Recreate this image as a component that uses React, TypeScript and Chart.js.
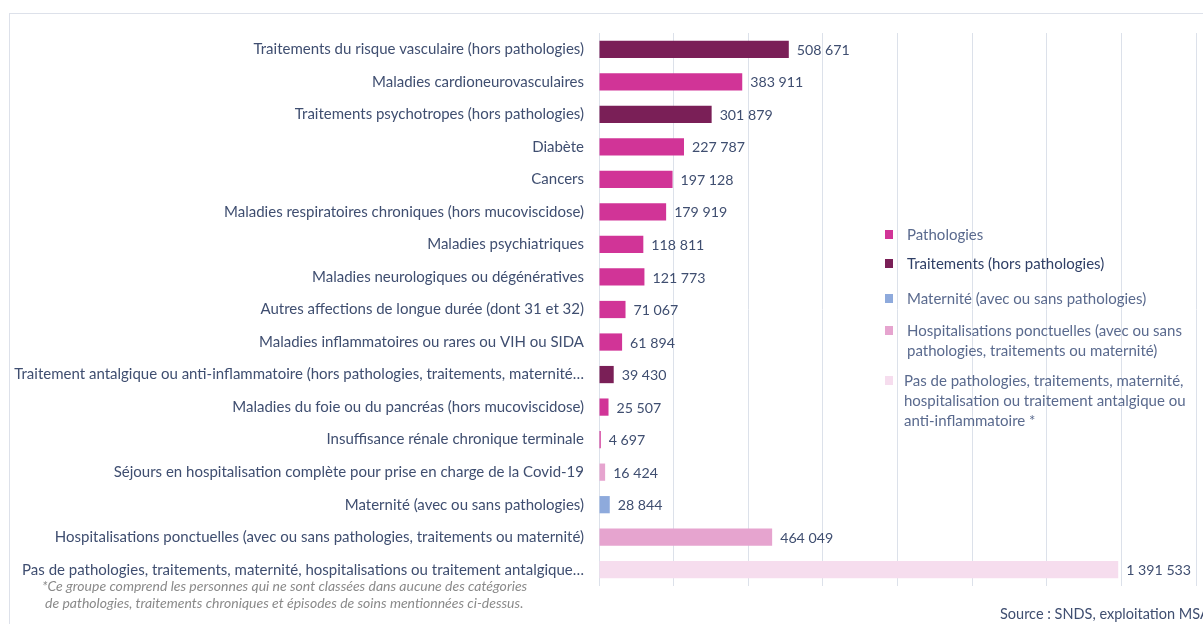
import React, { useEffect, useRef } from "react";
import { Chart, registerables } from "chart.js";

Chart.register(...registerables);

const categories = [
  "Traitements du risque vasculaire (hors pathologies)",
  "Maladies cardioneurovasculaires",
  "Traitements psychotropes (hors pathologies)",
  "Diabète",
  "Cancers",
  "Maladies respiratoires chroniques (hors mucoviscidose)",
  "Maladies psychiatriques",
  "Maladies neurologiques ou dégénératives",
  "Autres affections de longue durée (dont 31 et 32)",
  "Maladies inflammatoires ou rares ou VIH ou SIDA",
  "Traitement antalgique ou anti-inflammatoire (hors pathologies, traitements, maternité…",
  "Maladies du foie ou du pancréas (hors mucoviscidose)",
  "Insuffisance rénale chronique terminale",
  "Séjours en hospitalisation complète pour prise en charge de la Covid-19",
  "Maternité (avec ou sans pathologies)",
  "Hospitalisations ponctuelles (avec ou sans pathologies, traitements ou maternité)",
  "Pas de pathologies, traitements, maternité, hospitalisations ou traitement antalgique…",
];

const values = [
  508671, 383911, 301879, 227787, 197128, 179919, 118811, 121773, 71067, 61894,
  39430, 25507, 4697, 16424, 28844, 464049, 1391533,
];

// group of each bar: P pathologies, T traitements, M maternité, H hospitalisations, N aucune
const groups = ["T", "P", "T", "P", "P", "P", "P", "P", "P", "P", "T", "P", "P", "H", "M", "H", "N"];

const legendLabels = [
  ["Pathologies"],
  ["Traitements (hors pathologies)"],
  ["Maternité (avec ou sans pathologies)"],
  ["Hospitalisations ponctuelles (avec ou sans", "pathologies, traitements ou maternité)"],
  ["Pas de pathologies, traitements, maternité,", "hospitalisation ou traitement antalgique ou", "anti-inflammatoire *"],
];
const legendGroups = ["P", "T", "M", "H", "N"];

const footnote = [
  "*Ce groupe comprend les personnes qui ne sont classées dans aucune des catégories",
  "de pathologies, traitements chroniques et épisodes de soins mentionnées ci-dessus.",
];
const sourceText = "Source : SNDS, exploitation MSA";

const xMax = 1600000;
const xStep = 200000;

const groupColors: Record<string, string> = {
  P: "#D13497",
  T: "#7A1F57",
  M: "#8EAADC",
  H: "#E6A4CF",
  N: "#F6DDEE",
};

const FONT = "Lato, 'Open Sans', sans-serif";
const TEXT = "#3F4E70";

function fmt(v: number) {
  return String(v).replace(/\B(?=(\d{3})+(?!\d))/g, " ");
}

const valueLabels = {
  id: "valueLabels",
  afterDatasetsDraw(chart: any) {
    const ctx = chart.ctx;
    const meta = chart.getDatasetMeta(0);
    ctx.save();
    ctx.font = `14.2px ${FONT}`;
    ctx.fillStyle = TEXT;
    ctx.textBaseline = "middle";
    ctx.textAlign = "left";
    meta.data.forEach((bar: any, i: number) => {
      ctx.fillText(fmt(values[i]), bar.x + 8, bar.y + 1);
    });
    ctx.restore();
  },
};

export default function App() {
  const ref = useRef<HTMLCanvasElement | null>(null);

  useEffect(() => {
    document.body.style.margin = "0";
    if (!ref.current) return;
    const chart = new Chart(ref.current, {
      type: "bar",
      data: {
        labels: categories,
        datasets: [
          {
            data: values,
            backgroundColor: groups.map((g) => groupColors[g]),
            borderWidth: 0,
            barPercentage: 0.53,
            categoryPercentage: 1,
          },
        ],
      },
      options: {
        indexAxis: "y",
        animation: false,
        responsive: false,
        maintainAspectRatio: false,
        layout: { padding: { left: 0, right: 7, top: 33, bottom: 38 } },
        plugins: {
          legend: { display: false },
          tooltip: { enabled: false },
        },
        scales: {
          x: {
            min: 0,
            max: xMax,
            ticks: { display: false, stepSize: xStep },
            grid: { color: "#DCE1EA", lineWidth: 1, drawTicks: false },
            border: { display: false },
            afterFit: (s: any) => {
              s.height = 0;
            },
          },
          y: {
            ticks: {
              color: TEXT,
              font: { family: FONT, size: 15 },
              padding: 15,
              autoSkip: false,
            },
            grid: { display: false, drawTicks: false },
            border: { display: false },
            afterFit: (s: any) => {
              s.width = 599;
            },
          },
        },
      },
      plugins: [valueLabels],
    });
    return () => chart.destroy();
  }, []);

  const legendTops = [224, 253, 288, 320, 370];

  return (
    <div style={{ position: "relative", width: 1203, height: 624, overflow: "hidden", fontFamily: FONT }}>
      <div
        style={{
          position: "absolute",
          left: 9,
          top: 13,
          width: 1300,
          height: 700,
          borderTop: "1px solid #DDE1EA",
          borderLeft: "1px solid #DDE1EA",
        }}
      />
      <canvas ref={ref} width={1203} height={624} style={{ position: "absolute", left: 0, top: 0 }} />
      {legendLabels.map((lines, i) => (
        <div key={i} style={{ position: "absolute", left: 885, top: legendTops[i] }}>
          <div
            style={{
              position: "absolute",
              left: 0,
              top: 6,
              width: 8,
              height: 9,
              background: groupColors[legendGroups[i]],
            }}
          />
          <div
            style={{
              position: "absolute",
              left: i === 4 ? 19 : 22,
              top: 0,
              whiteSpace: "nowrap",
              fontSize: 15,
              lineHeight: "20px",
              color: i === 1 ? "#2F3F66" : "#5A6A8E",
            }}
          >
            {lines.map((l, j) => (
              <div key={j}>{l}</div>
            ))}
          </div>
        </div>
      ))}
      <div
        style={{
          position: "absolute",
          left: 42,
          top: 577,
          fontStyle: "italic",
          fontSize: 14,
          lineHeight: "17px",
          color: "#8A8A8A",
          whiteSpace: "nowrap",
        }}
      >
        <div>{footnote[0]}</div>
        <div style={{ paddingLeft: 3 }}>{footnote[1]}</div>
      </div>
      <div
        style={{
          position: "absolute",
          left: 1000,
          top: 605,
          fontSize: 14.5,
          color: "#3F4E70",
          whiteSpace: "nowrap",
        }}
      >
        {sourceText}
      </div>
    </div>
  );
}
